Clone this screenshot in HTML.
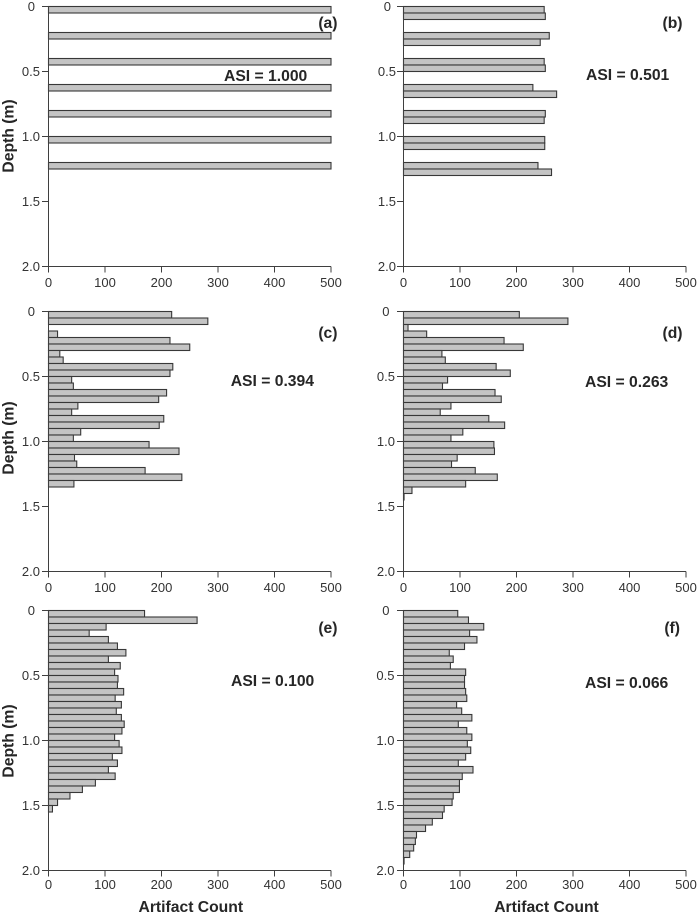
<!DOCTYPE html>
<html lang="en">
<head>
<meta charset="utf-8">
<title>Artifact count by depth</title>
<style>
html,body{margin:0;padding:0;background:#fff;}
svg{display:block;font-family:"Liberation Sans",Arial,sans-serif;}
.tick{font-size:13px;fill:#333;}
.title{font-size:15.7px;font-weight:bold;fill:#262626;}
</style>
</head>
<body>
<svg id="chart" xmlns="http://www.w3.org/2000/svg" width="700" height="915" viewBox="0 0 700 915">
  <rect width="700" height="915" fill="#fff"/>
  <g id="panel-a"></g>
  <g id="panel-b"></g>
  <g id="panel-c"></g>
  <g id="panel-d"></g>
  <g id="panel-e"></g>
  <g id="panel-f"></g>

  <text class="title" transform="translate(13.5,136) rotate(-90)" text-anchor="middle">Depth (m)</text>
  <text class="title" transform="translate(13.5,438) rotate(-90)" text-anchor="middle">Depth (m)</text>
  <text class="title" transform="translate(13.5,741) rotate(-90)" text-anchor="middle">Depth (m)</text>

  <text class="title" x="190.8" y="912" text-anchor="middle">Artifact Count</text>
  <text class="title" x="546.5" y="912" text-anchor="middle">Artifact Count</text>

  <text class="title" x="224" y="81">ASI = 1.000</text>
  <text class="title" x="586" y="80">ASI = 0.501</text>
  <text class="title" x="230.7" y="386">ASI = 0.394</text>
  <text class="title" x="585" y="387">ASI = 0.263</text>
  <text class="title" x="231" y="686">ASI = 0.100</text>
  <text class="title" x="585" y="688">ASI = 0.066</text>

  <text class="title" x="337.5" y="28" text-anchor="end">(a)</text>
  <text class="title" x="682.5" y="28" text-anchor="end">(b)</text>
  <text class="title" x="337.5" y="338" text-anchor="end">(c)</text>
  <text class="title" x="682.5" y="338" text-anchor="end">(d)</text>
  <text class="title" x="337.5" y="633" text-anchor="end">(e)</text>
  <text class="title" x="680" y="633" text-anchor="end">(f)</text>
</svg>
<script>
var countTicks = [0, 100, 200, 300, 400, 500];
var depthTicks = [0, 0.5, 1.0, 1.5, 2.0];
var depthTickLabels = ['0', '0.5', '1.0', '1.5', '2.0'];
var binDepth = 0.05;

var countsA = [500,0,0,0,500,0,0,0,500,0,0,0,500,0,0,0,500,0,0,0,500,0,0,0,500];
var countsB = [249,251,0,0,258,242,0,0,249,251,0,0,229,271,0,0,251,249,0,0,250,250,0,0,238,262];
var countsC = [218,282,0,16,215,250,20,26,220,215,41,44,209,195,52,41,204,196,57,44,178,231,46,50,171,236,45];
var countsD = [205,291,8,41,178,212,68,74,164,189,78,69,162,173,84,65,151,179,105,84,160,161,95,85,127,166,110,15,1];
var countsE = [170,263,102,72,106,122,137,106,127,117,123,122,133,118,129,120,129,134,130,117,125,130,113,122,106,118,83,60,38,16,7];
var countsF = [96,115,142,117,130,108,81,88,83,110,108,108,110,112,94,103,121,97,112,121,113,119,110,97,123,104,99,99,88,86,72,69,51,39,23,21,18,11,1];

var SVG_NS = 'http://www.w3.org/2000/svg';
var AXIS_COLOR = '#3f3f3f';
var BAR_FILL = '#c4c4c4';
var BAR_STROKE = '#383838';

function make(tag, parent, attrs) {
  var el = document.createElementNS(SVG_NS, tag);
  for (var k in attrs) { el.setAttribute(k, attrs[k]); }
  parent.appendChild(el);
  return el;
}

function drawPanel(id, counts, left, top, zeroRight, labelRight, xLabelOffset) {
  var plotWidth = 282.5;
  var plotHeight = 260;
  var maxCount = 500;
  var maxDepth = 2;
  var xScale = function (v) { return left + v / maxCount * plotWidth; };
  var yScale = function (d) { return top + d / maxDepth * plotHeight; };
  var g = document.getElementById('panel-' + id);

  counts.forEach(function (value, i) {
    if (!value) { return; }
    var bar = make('rect', g, {
      x: xScale(0),
      y: yScale(i * binDepth),
      width: xScale(value) - xScale(0),
      height: yScale(binDepth) - yScale(0),
      fill: BAR_FILL,
      stroke: BAR_STROKE,
      'stroke-width': 1.1
    });
    
    
  });

  var yAxis = make('line', g, { x1: left, y1: yScale(0), x2: left, y2: yScale(maxDepth) + 6, stroke: AXIS_COLOR, 'stroke-width': 1 });
  
  

  var xAxis = make('line', g, { x1: left, y1: yScale(maxDepth), x2: xScale(maxCount), y2: yScale(maxDepth), stroke: AXIS_COLOR, 'stroke-width': 1 });
  
  

  depthTicks.forEach(function (d, i) {
    var tick = make('line', g, { x1: left - 6.5, y1: yScale(d), x2: left, y2: yScale(d), stroke: AXIS_COLOR, 'stroke-width': 1 });
    
    
    var label = make('text', g, { x: i === 0 ? zeroRight : labelRight, y: yScale(d) + 4.5, 'text-anchor': 'end', 'class': 'tick' });
    label.textContent = depthTickLabels[i];
    
    
  });

  countTicks.forEach(function (c, i) {
    var tick = make('line', g, { x1: xScale(c), y1: yScale(maxDepth), x2: xScale(c), y2: yScale(maxDepth) + 6, stroke: AXIS_COLOR, 'stroke-width': 1 });
    
    
    var label = make('text', g, { x: xScale(c), y: yScale(maxDepth) + xLabelOffset, 'text-anchor': 'middle', 'class': 'tick' });
    label.textContent = String(c);
    
    
  });
}

drawPanel('a', countsA, 48.5, 6.5, 35, 40, 20.5);
drawPanel('b', countsB, 403.5, 6.5, 391, 396, 20.5);
drawPanel('c', countsC, 48.5, 311.5, 35, 40, 20.5);
drawPanel('d', countsD, 403.5, 311.5, 389.5, 395, 20.5);
drawPanel('e', countsE, 48.5, 610.5, 35, 40, 18.7);
drawPanel('f', countsF, 403.5, 610.5, 389.5, 394.5, 18.7);
</script>
</body>
</html>
